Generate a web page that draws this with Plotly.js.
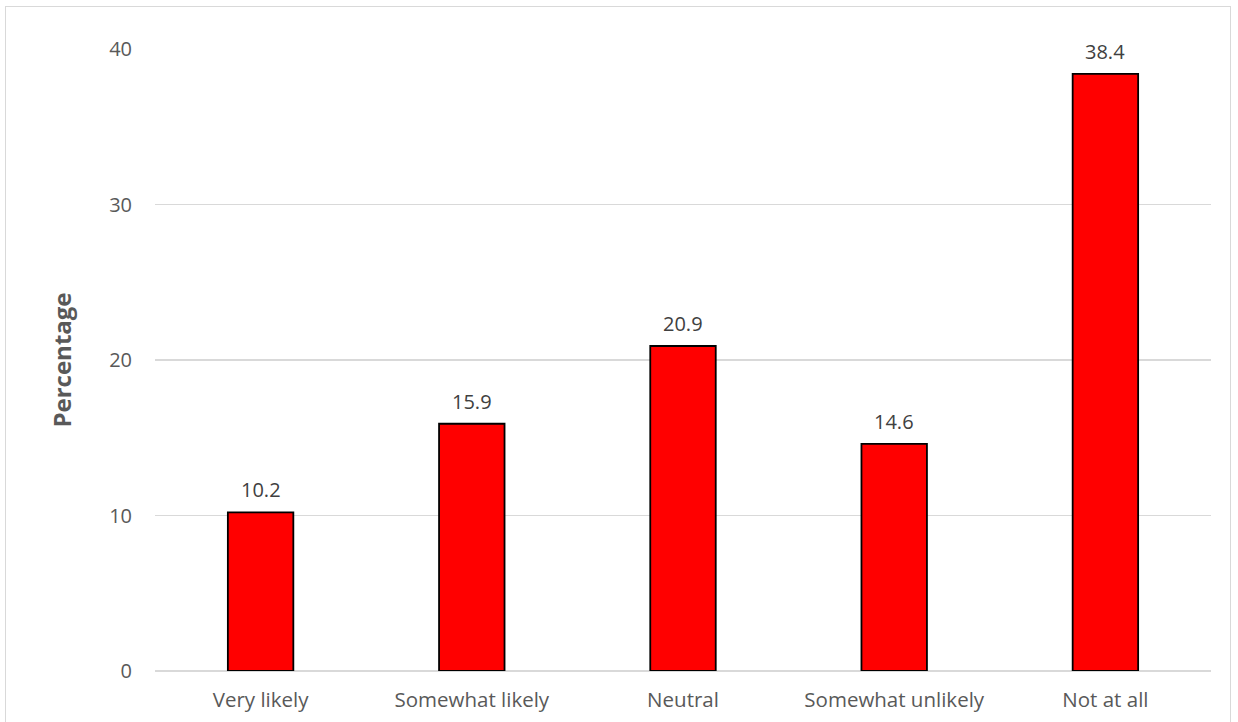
<!DOCTYPE html>
<html>
<head>
<meta charset="utf-8">
<script src="https://cdn.plot.ly/plotly-3.0.1.min.js"></script>
<style>
html,body{margin:0;padding:0;background:#fff;}
#wrap{position:relative;width:1238px;height:722px;overflow:hidden;}
#chart{width:1238px;height:722px;}
#frame{position:absolute;left:5px;top:6px;width:1226px;height:730px;border:1.5px solid #d9d9d9;pointer-events:none;box-sizing:border-box;}
</style>
</head>
<body>
<div id="wrap"><div id="chart"></div><div id="frame"></div></div>
<script>
var categories = ["Very likely", "Somewhat likely", "Neutral", "Somewhat unlikely", "Not at all"];
var values = [10.2, 15.9, 20.9, 14.6, 38.4];
var tickValues = [0, 10, 20, 30, 40];
var yTitle = "Percentage";

var fontFam = "Open Sans, Liberation Sans, sans-serif";
var grey = "#595959";

var trace = {
  type: "bar",
  x: categories,
  y: values,
  marker: {color: "#ff0000", line: {color: "#000000", width: 1.8}},
  hoverinfo: "x+y"
};

var annotations = categories.map(function(c, i){
  return {
    x: c, y: values[i], xref: "x", yref: "y",
    text: values[i].toFixed(1), showarrow: false,
    yanchor: "bottom", yshift: 7,
    font: {family: fontFam, size: 20, color: "#404040"}
  };
});

var layout = {
  width: 1238, height: 722,
  margin: {l: 155, r: 27, t: 49, b: 51},
  paper_bgcolor: "#ffffff",
  plot_bgcolor: "#ffffff",
  bargap: 0.69,
  showlegend: false,
  font: {family: fontFam, color: grey, size: 20},
  xaxis: {
    type: "category",
    showgrid: false,
    showline: false,
    zeroline: false,
    ticks: "",
    tickfont: {family: fontFam, size: 20.5, color: grey},
    ticklabelstandoff: 14
  },
  yaxis: {
    range: [0, 40],
    tickvals: tickValues,
    showgrid: true,
    gridcolor: "#d9d9d9",
    gridwidth: 1.3,
    zeroline: true,
    zerolinecolor: "#d9d9d9",
    zerolinewidth: 1.3,
    showline: false,
    ticks: "",
    ticklabelstandoff: 22,
    tickfont: {family: fontFam, size: 20, color: grey},
    title: {text: yTitle, standoff: 30, font: {family: fontFam, size: 24, color: grey, weight: "bold"}}
  },
  annotations: annotations
};

Plotly.newPlot("chart", [trace], layout, {displayModeBar: false, staticPlot: true});
</script>
</body>
</html>
